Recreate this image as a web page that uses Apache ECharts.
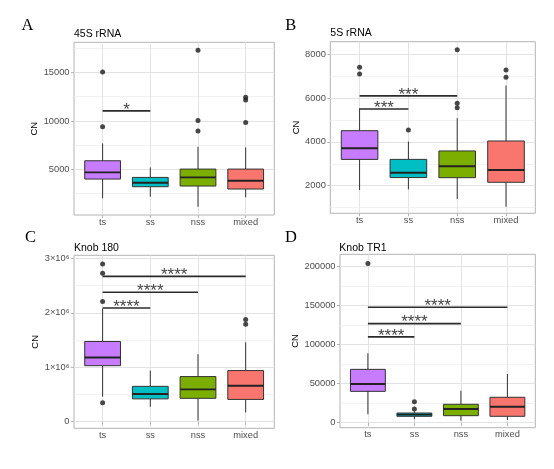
<!DOCTYPE html>
<html><head><meta charset="utf-8">
<script src="https://cdn.jsdelivr.net/npm/echarts@6/dist/echarts.min.js"></script>
<style>html,body{margin:0;padding:0;background:#fff}#c{width:554px;height:469px}</style>
</head><body><div id="c"></div>
<script>
const categories = ['ts', 'ss', 'nss', 'mixed'];
const catPos = [1, 2, 3, 4];

// box stats per category: [lower whisker, Q1, median, Q3, upper whisker]
const box45S = [[2010, 4000, 4690, 5890, 7680], [2180, 3210, 3620, 4170, 5200], [1140, 3280, 4170, 5030, 7330], [2110, 2970, 3830, 5030, 7270]];
const out45S = [[15060, 9390], [], [17300, 10050, 8950], [12450, 12150, 9850]];
const sig45S = [[1, 2, 11040, '*']];
const ticks45S = [5000, 10000, 15000];
const minor45S = [2500, 7500, 12500, 17500];

const box5S = [[1800, 3200, 3710, 4510, 5530], [1830, 2370, 2590, 3200, 4010], [1390, 2365, 2885, 3585, 5080], [1040, 2155, 2717, 4040, 6570]];
const out5S = [[7400, 7100], [4540], [8200, 5760, 5560], [7280, 6950]];
const sig5S = [[1, 2, 5500, '***'], [1, 3, 6100, '***']];
const ticks5S = [2000, 4000, 6000, 8000];
const minor5S = [1000, 3000, 5000, 7000];

const boxK180 = [[460000, 1030000, 1180000, 1475000, 2080000], [275000, 420000, 510000, 650000, 940000], [20000, 430000, 595000, 830000, 1240000], [170000, 410000, 660000, 940000, 1460000]];
const outK180 = [[2900000, 2730000, 2210000, 350000], [], [], [1880000, 1790000]];
const sigK180 = [[1, 2, 2090000, '****'], [1, 3, 2380000, '****'], [1, 4, 2670000, '****']];
const ticksK180 = [0, 1000000, 2000000, 3000000];
const minorK180 = [500000, 1500000, 2500000];

const boxTR1 = [[10800, 40200, 49600, 68400, 89000], [4400, 8200, 10300, 12400, 14600], [2600, 9000, 17600, 23600, 41000], [3500, 8200, 20500, 32600, 62400]];
const outTR1 = [[204000], [26900, 17600], [], []];
const sigTR1 = [[1, 2, 110000, '****'], [1, 3, 127000, '****'], [1, 4, 148000, '****']];
const ticksTR1 = [0, 50000, 100000, 150000, 200000];
const minorTR1 = [25000, 75000, 125000, 175000];

const titles = ['45S rRNA', '5S rRNA', 'Knob 180', 'Knob TR1'];
const letters = ['A', 'B', 'C', 'D'];

// ---- styling / layout ----
const FONT = '"Liberation Sans", Arial, "DejaVu Sans", sans-serif';
const SERIF = '"Liberation Serif", "Times New Roman", serif';
const fills = ['#C77CFF', '#00BFC4', '#7CAE00', '#F8766D'];
const sciFmt = v => v === 0 ? '0' : (v / 1e6) + '×10⁶';
const panels = [
  { box: box45S, out: out45S, sig: sig45S, ticks: ticks45S, minor: minor45S, min: 290, max: 18120,
    grid: { left: 74, top: 42.3, width: 200.3, height: 172.7 }, gap: 30, fmt: v => String(v),
    letterPos: [21.5, 25.5], titlePos: [74, 34.3] },
  { box: box5S, out: out5S, sig: sig5S, ticks: ticks5S, minor: minor5S, min: 740, max: 8570,
    grid: { left: 330.3, top: 41.7, width: 205, height: 171.6 }, gap: 26, fmt: v => String(v),
    letterPos: [285.3, 25.3], titlePos: [330.3, 33.3] },
  { box: boxK180, out: outK180, sig: sigK180, ticks: ticksK180, minor: minorK180, min: -121000, max: 3059000,
    grid: { left: 74, top: 255.3, width: 200.3, height: 173 }, gap: 30, fmt: sciFmt,
    letterPos: [25, 237.5], titlePos: [74, 248] },
  { box: boxTR1, out: outTR1, sig: sigTR1, ticks: ticksTR1, minor: minorTR1, min: -6410, max: 215900,
    grid: { left: 340, top: 254.3, width: 195.3, height: 173.4 }, gap: 34.5, fmt: v => String(v),
    letterPos: [285, 237.5], titlePos: [339.3, 248] }
];

function boxRender(params, api) {
  const x = api.value(0);
  const lo = api.coord([x, api.value(1)]);
  const q1 = api.coord([x, api.value(2)]);
  const md = api.coord([x, api.value(3)]);
  const q3 = api.coord([x, api.value(4)]);
  const hi = api.coord([x, api.value(5)]);
  const w = api.size([0.75, 0])[0];
  const cx = lo[0];
  const color = fills[Math.round(x) - 1];
  const ln = { stroke: '#333333', lineWidth: 1 };
  return { type: 'group', children: [
    { type: 'line', shape: { x1: cx, y1: hi[1], x2: cx, y2: q3[1] }, style: ln },
    { type: 'line', shape: { x1: cx, y1: q1[1], x2: cx, y2: lo[1] }, style: ln },
    { type: 'rect', shape: { x: cx - w / 2, y: q3[1], width: w, height: q1[1] - q3[1] }, style: { fill: color, stroke: '#333333', lineWidth: 1 } },
    { type: 'line', shape: { x1: cx - w / 2, y1: md[1], x2: cx + w / 2, y2: md[1] }, style: { stroke: '#222222', lineWidth: 1.9 } }
  ] };
}

function sigRender(sig) {
  return function (params, api) {
    const s = sig[params.dataIndex];
    const p1 = api.coord([s[0], s[2]]);
    const p2 = api.coord([s[1], s[2]]);
    return { type: 'group', children: [
      { type: 'line', shape: { x1: p1[0], y1: p1[1], x2: p2[0], y2: p2[1] }, style: { stroke: '#2b2b2b', lineWidth: 1.7 } },
      { type: 'text', x: (p1[0] + p2[0]) / 2, y: p1[1] - 1,
        style: { text: s[3], fill: '#444444', font: '17px ' + FONT, align: 'center', verticalAlign: 'middle', textAlign: 'center', textVerticalAlign: 'middle' } }
    ] };
  };
}

const grid = [], xAxis = [], yAxis = [], series = [], graphic = [];
panels.forEach((p, i) => {
  grid.push(Object.assign({ show: true, borderColor: '#b3b3b3', borderWidth: 1, backgroundColor: '#ffffff', containLabel: false, outerBoundsMode: 'none' }, p.grid));
  xAxis.push({
    gridIndex: i, type: 'value', min: 0.4, max: 4.6,
    axisLine: { show: false },
    axisTick: { show: true, length: 3, customValues: catPos, lineStyle: { color: '#b3b3b3', width: 1 } },
    axisLabel: { customValues: catPos, formatter: v => categories[Math.round(v) - 1] || '', color: '#4d4d4d', fontSize: 9.3, fontFamily: FONT, margin: 2.5 },
    splitLine: { show: true, lineStyle: { color: '#e3e3e3', width: 1 } }
  });
  yAxis.push({
    gridIndex: i, type: 'value', min: p.min, max: p.max,
    name: 'CN', nameLocation: 'middle', nameGap: p.gap,
    nameTextStyle: { color: '#000000', fontSize: 9.5, fontFamily: FONT },
    axisLine: { show: false },
    axisTick: { show: true, length: 3, customValues: p.ticks, lineStyle: { color: '#b3b3b3', width: 1 } },
    axisLabel: { customValues: p.ticks, formatter: p.fmt, color: '#4d4d4d', fontSize: 9.3, fontFamily: FONT, margin: 4.5 },
    splitLine: { show: true, lineStyle: { color: '#e3e3e3', width: 1 } }
  });
  yAxis.push({
    gridIndex: i, type: 'value', min: p.min, max: p.max, position: 'left',
    axisLine: { show: false },
    axisTick: { show: false, customValues: p.minor },
    axisLabel: { show: false, customValues: p.minor },
    splitLine: { show: true, lineStyle: { color: '#efefef', width: 0.8 } }
  });
  series.push({
    type: 'custom', xAxisIndex: i, yAxisIndex: 2 * i, silent: true, clip: false,
    data: p.box.map((b, k) => [catPos[k]].concat(b)),
    encode: { x: 0, y: [1, 2, 3, 4, 5] },
    renderItem: boxRender
  });
  const pts = [];
  p.out.forEach((arr, k) => arr.forEach(v => pts.push([catPos[k], v])));
  series.push({
    type: 'scatter', xAxisIndex: i, yAxisIndex: 2 * i, silent: true,
    symbolSize: 5, itemStyle: { color: '#1a1a1a' }, data: pts
  });
  series.push({
    type: 'custom', xAxisIndex: i, yAxisIndex: 2 * i, silent: true, clip: false,
    data: p.sig.map(s => [s[0], s[1], s[2]]),
    encode: { x: [0, 1], y: 2 },
    renderItem: sigRender(p.sig)
  });
  graphic.push({ type: 'text', x: p.letterPos[0], y: p.letterPos[1], silent: true,
    style: { text: letters[i], fill: '#000', font: '16.5px ' + SERIF, align: 'left', verticalAlign: 'middle', textAlign: 'left', textVerticalAlign: 'middle' } });
  graphic.push({ type: 'text', x: p.titlePos[0], y: p.titlePos[1], silent: true,
    style: { text: titles[i], fill: '#000', font: '10.5px ' + FONT, align: 'left', verticalAlign: 'middle', textAlign: 'left', textVerticalAlign: 'middle' } });
});

const chart = echarts.init(document.getElementById('c'), null, { renderer: 'canvas' });
chart.setOption({ backgroundColor: '#ffffff', animation: false, grid, xAxis, yAxis, series, graphic });
</script>
</body></html>
